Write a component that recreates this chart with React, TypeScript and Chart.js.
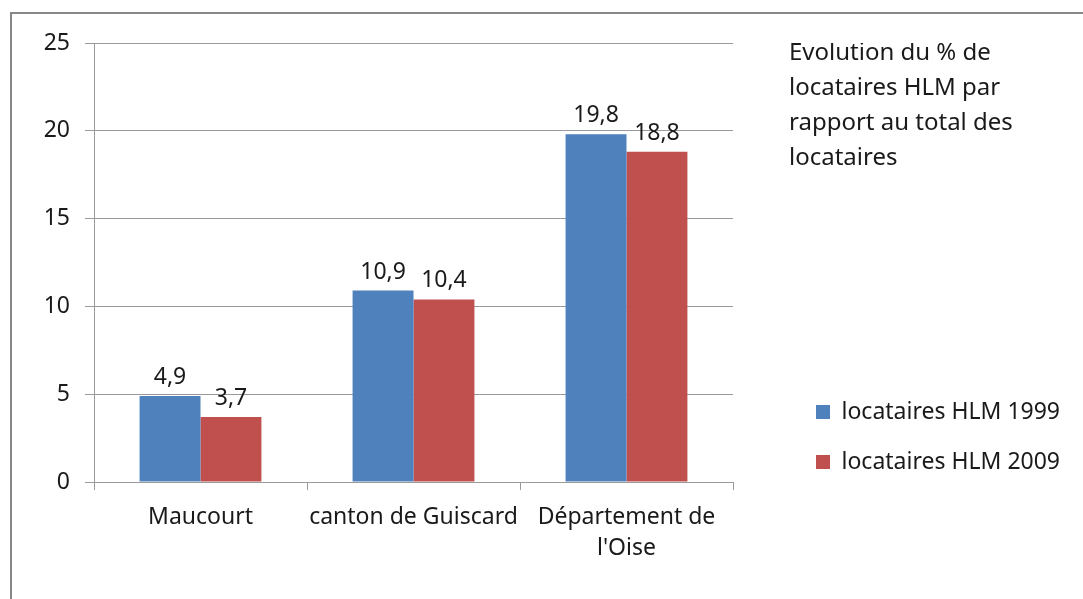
import React, { useEffect, useRef } from "react";
import { Chart, registerables } from "chart.js";

Chart.register(...registerables);

const categories: (string | string[])[] = ["Maucourt", "canton de Guiscard", ["Département de", "l'Oise"]];
const series1999: number[] = [4.9, 10.9, 19.8];
const series2009: number[] = [3.7, 10.4, 18.8];
const seriesNames: string[] = ["locataires HLM 1999", "locataires HLM 2009"];
const titleLines: string[] = ["Evolution du % de", "locataires HLM par", "rapport au total des", "locataires"];
const yTicks: number[] = [0, 5, 10, 15, 20, 25];

const FONT = "'Noto Sans', 'Open Sans', sans-serif";
const TEXT = "#1a1a1a";
const GRID = "#9a9a9a";

const W = 1083;
const H = 599;
const LEGEND_LEFT = 789;
const PLOT_RIGHT = 733;
const LEG_PAD = 27;
const LEG_BOX = 14;
const LEG_FONT = 23;

const valueLabels = {
  id: "valueLabels",
  afterDatasetsDraw(chart: any) {
    const ctx = chart.ctx;
    ctx.save();
    ctx.font = `23px ${FONT}`;
    ctx.fillStyle = TEXT;
    ctx.textAlign = "center";
    ctx.textBaseline = "alphabetic";
    chart.data.datasets.forEach((ds: any, di: number) => {
      const meta = chart.getDatasetMeta(di);
      meta.data.forEach((bar: any, i: number) => {
        const v = ds.data[i] as number;
        ctx.fillText(v.toFixed(1).replace(".", ","), bar.x, bar.y - 12);
      });
    });
    ctx.restore();
  },
};

export default function App() {
  const ref = useRef<HTMLCanvasElement | null>(null);
  useEffect(() => {
    if (!ref.current) return;
    const mctx = document.createElement("canvas").getContext("2d")!;
    mctx.font = `${LEG_FONT}px ${FONT}`;
    const textW = Math.max(...seriesNames.map((s) => mctx.measureText(s).width));
    const legendW = LEG_PAD + LEG_BOX + LEG_FONT / 2 + textW + 10;
    const padRight = Math.max(0, W - LEGEND_LEFT - legendW);
    const chart = new Chart(ref.current, {
      type: "bar",
      data: {
        labels: categories as any,
        datasets: [
          { label: seriesNames[0], data: series1999, backgroundColor: "#4F81BD", borderWidth: 0, categoryPercentage: 0.572, barPercentage: 1 },
          { label: seriesNames[1], data: series2009, backgroundColor: "#C0504D", borderWidth: 0, categoryPercentage: 0.572, barPercentage: 1 },
        ],
      },
      options: {
        responsive: false,
        animation: false,
        devicePixelRatio: 1,
        layout: { padding: { left: 40, top: 43, bottom: 17, right: padRight } },
        plugins: {
          tooltip: { enabled: false },
          title: { display: false },
          legend: {
            display: true,
            position: "right",
            align: "start",
            fullSize: true,
            maxWidth: 400,
            labels: {
              boxWidth: LEG_BOX,
              boxHeight: LEG_BOX,
              padding: LEG_PAD,
              color: TEXT,
              font: { family: FONT, size: LEG_FONT },
            },
            title: {
              display: true,
              text: titleLines as any,
              position: "start",
              color: TEXT,
              font: { family: FONT, size: 24, lineHeight: 35 / 24 },
              padding: { top: -2, bottom: 297.5 } as any,
            },
          },
        },
        scales: {
          x: {
            offset: true,
            grid: { display: true, drawOnChartArea: false, drawTicks: true, tickLength: 8, color: GRID, offset: true },
            border: { display: true, color: GRID },
            ticks: { color: TEXT, font: { family: FONT, size: 23, lineHeight: 31 / 23 }, padding: 12, maxRotation: 0, autoSkip: false },
            afterFit: (s: any) => { s.height = 100; },
          },
          y: {
            min: 0,
            max: 25,
            afterBuildTicks: (s: any) => { s.ticks = yTicks.map((v) => ({ value: v })); },
            grid: { color: GRID, tickLength: 9, drawTicks: true },
            border: { display: true, color: GRID },
            ticks: { color: TEXT, font: { family: FONT, size: 23 }, padding: 15 },
            afterFit: (s: any) => { s.width = 54; },
          },
          y2: {
            type: "linear",
            position: "right",
            display: true,
            grid: { display: false, drawTicks: false },
            border: { display: false },
            ticks: { display: false },
            afterFit: (s: any) => { s.width = LEGEND_LEFT - PLOT_RIGHT; },
          },
        },
      },
      plugins: [valueLabels],
    });
    return () => chart.destroy();
  }, []);

  return (
    <div style={{ position: "fixed", left: 0, top: 0, width: W, height: H, overflow: "hidden", background: "#fff" }}>
      <div style={{ position: "absolute", left: 10, top: 12, width: 1200, height: 800, border: "2px solid #878787", boxSizing: "border-box" }} />
      <canvas ref={ref} width={W} height={H} style={{ position: "absolute", left: 0, top: 0, width: W, height: H }} />
    </div>
  );
}
